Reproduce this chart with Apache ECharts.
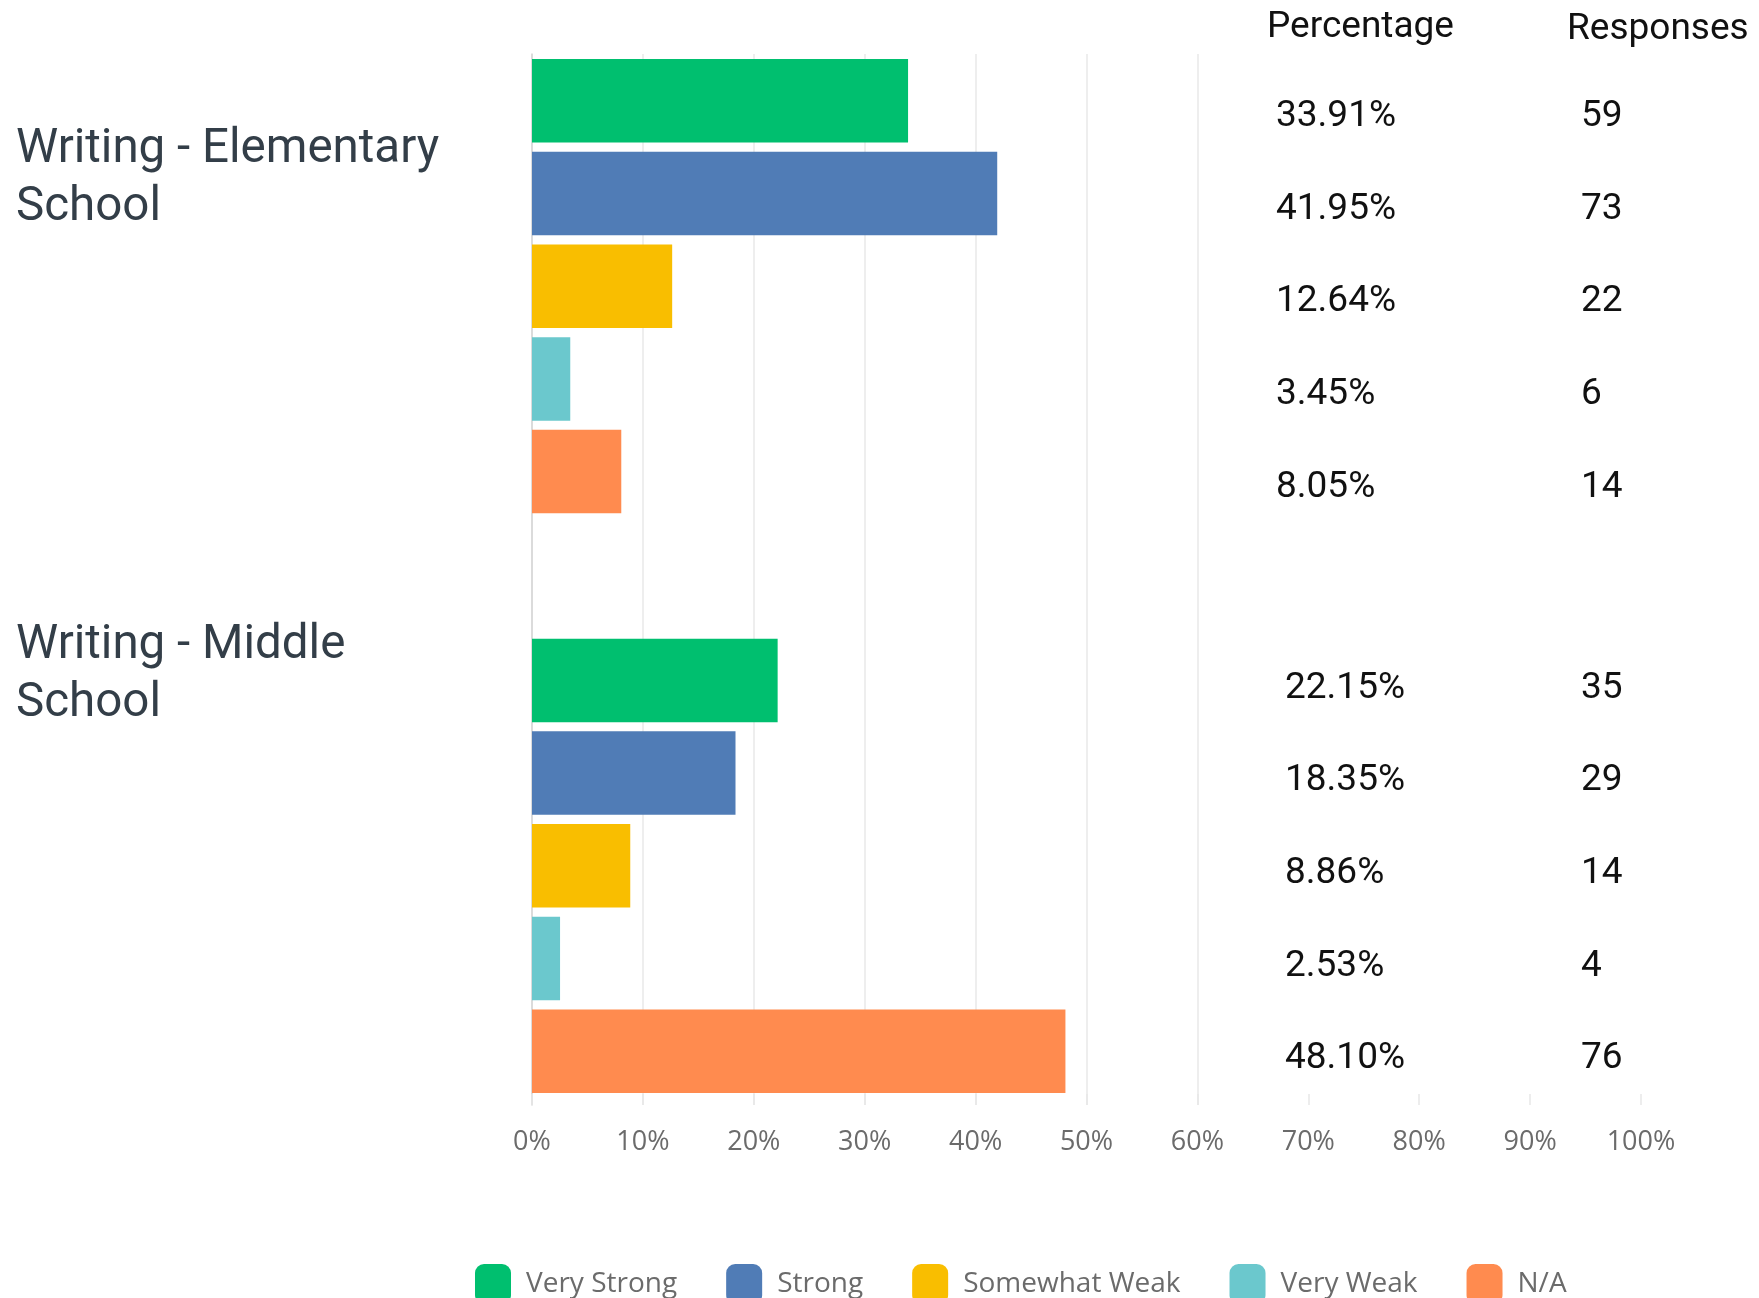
<!DOCTYPE html>
<html><head><meta charset="utf-8">
<script src="https://cdn.jsdelivr.net/npm/echarts@6/dist/echarts.min.js"></script>
<style>html,body{margin:0;padding:0;background:#fff}#chart{width:1759px;height:1298px}</style>
</head><body><div id="chart"></div>
<script>
// ---- data ----
const categories = ['Writing - Elementary School', 'Writing - Middle School'];
const ratings = ['Very Strong', 'Strong', 'Somewhat Weak', 'Very Weak', 'N/A'];
const veryStrongPct = [33.91, 22.15];
const strongPct = [41.95, 18.35];
const somewhatWeakPct = [12.64, 8.86];
const veryWeakPct = [3.45, 2.53];
const naPct = [8.05, 48.10];
const veryStrongCount = [59, 35];
const strongCount = [73, 29];
const somewhatWeakCount = [22, 14];
const veryWeakCount = [6, 4];
const naCount = [14, 76];
const tableHeaders = ['Percentage', 'Responses'];

// ---- styles ----
const pctSeries = [veryStrongPct, strongPct, somewhatWeakPct, veryWeakPct, naPct];
const countSeries = [veryStrongCount, strongCount, somewhatWeakCount, veryWeakCount, naCount];
const colors = ['#00BF6F', '#507CB6', '#F9BE00', '#6BC8CD', '#FF8B4F'];
const groupLabelStyle = [{dx: 744, dy: 16, pw: 305}, {dx: 753, dy: 8, pw: 296}];
const gridLeft = 532, gridRight = 118;
const valueFont = {fontFamily: 'Roboto', fontSize: 37, color: '#111111'};

function richFor(pw) {
  return {
    p: Object.assign({width: pw}, valueFont),
    r: Object.assign({}, valueFont)
  };
}

const series = ratings.map((name, si) => ({
  name: name,
  type: 'bar',
  xAxisIndex: 1,
  yAxisIndex: 1,
  barWidth: 83.5,
  barGap: '11%',
  itemStyle: {color: colors[si]},
  label: {
    show: true,
    position: [groupLabelStyle[0].dx, '50%'],
    align: 'left',
    verticalAlign: 'middle',
    formatter: p => '{p|' + Number(p.value).toFixed(2) + '%}{r|' + countSeries[si][p.dataIndex] + '}',
    rich: richFor(groupLabelStyle[0].pw)
  },
  data: pctSeries[si].map((v, di) => ({
    value: v,
    label: {
      position: [groupLabelStyle[di].dx, '50%'],
      offset: [0, groupLabelStyle[di].dy],
      rich: richFor(groupLabelStyle[di].pw)
    }
  }))
}));

const splitColors = [];
for (let i = 0; i <= 10; i++) splitColors.push(i <= 6 ? '#e8e8e8' : 'rgba(0,0,0,0)');

const chart = echarts.init(document.getElementById('chart'), null, {renderer: 'canvas'});
chart.setOption({
  backgroundColor: '#ffffff',
  animation: false,
  title: [
    {text: tableHeaders[0], left: 1267, top: 8, padding: 0,
     textStyle: {fontFamily: 'Roboto', fontSize: 37, fontWeight: 'normal', color: '#111111', lineHeight: 40}},
    {text: tableHeaders[1], left: 1567, top: 10, padding: 0,
     textStyle: {fontFamily: 'Roboto', fontSize: 37, fontWeight: 'normal', color: '#111111', lineHeight: 40}}
  ],
  legend: {
    data: ratings,
    left: 470,
    top: 1259,
    itemWidth: 36,
    itemHeight: 40,
    itemGap: 49,
    icon: 'roundRect',
    selectedMode: false,
    textStyle: {fontFamily: 'Open Sans', fontSize: 28, color: '#6b6b6b', padding: [0, 0, 0, 10]}
  },
  grid: [
    {left: gridLeft, right: gridRight, top: 54, height: 1051, outerBoundsMode: 'none', containLabel: false},
    {left: gridLeft, right: gridRight, top: -3.6, height: 1159.2, outerBoundsMode: 'none', containLabel: false}
  ],
  xAxis: [
    {
      type: 'value', gridIndex: 0, min: 0, max: 100, interval: 10, position: 'bottom',
      axisLine: {show: false},
      axisTick: {show: true, inside: true, length: 11, lineStyle: {color: '#e8e8e8', width: 1.5}},
      splitLine: {show: true, lineStyle: {color: splitColors, width: 1.5}},
      axisLabel: {formatter: '{value}%', margin: 24, fontFamily: 'Open Sans', fontSize: 27, color: '#6b6b6b'}
    },
    {
      type: 'value', gridIndex: 1, min: 0, max: 100, show: false,
      splitLine: {show: false}
    }
  ],
  yAxis: [
    {
      type: 'category', gridIndex: 0, data: categories, inverse: true,
      axisLine: {show: true, lineStyle: {color: '#d4d4d4', width: 1.5}},
      axisTick: {show: false},
      splitLine: {show: false},
      axisLabel: {
        show: true,
        align: 'left',
        margin: 516,
        formatter: (v, i) => '{t|' + v.replace(/ (\S+)$/, '}\n{t|$1') + '}\n{g' + i + '| }',
        rich: {
          t: {fontFamily: 'Roboto', fontSize: 47.5, lineHeight: 58, color: '#333e48'},
          g0: {fontSize: 10, height: 276, lineHeight: 276},
          g1: {fontSize: 10, height: 334, lineHeight: 334}
        }
      }
    },
    {
      type: 'category', gridIndex: 1, data: categories, inverse: true, show: false
    }
  ],
  series: series
});
</script>
</body></html>
